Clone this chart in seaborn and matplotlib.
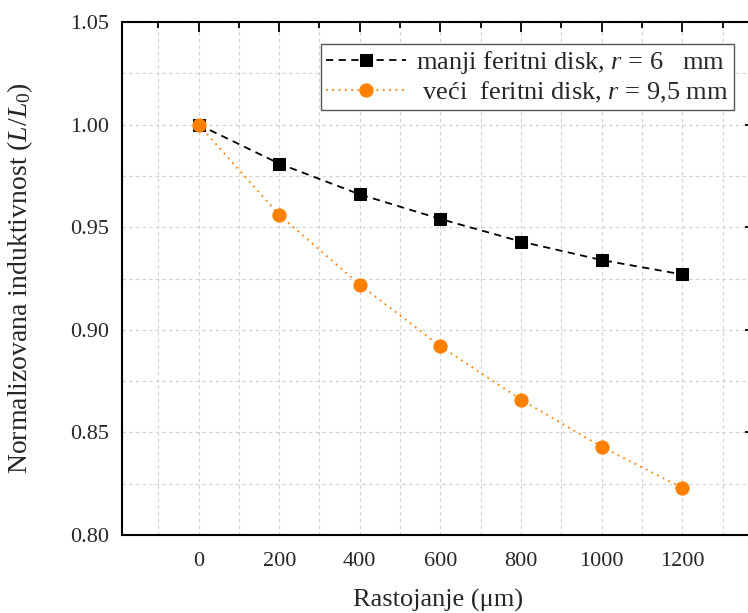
import matplotlib
matplotlib.use("Agg")
import matplotlib.pyplot as plt
from matplotlib.ticker import MultipleLocator
import seaborn as sns
import pandas as pd

# Measured normalized inductance versus distance
rastojanje = [0, 200, 400, 600, 800, 1000, 1200]
manji_disk = [1.000, 0.981, 0.966, 0.954, 0.943, 0.934, 0.927]
veci_disk = [1.000, 0.956, 0.922, 0.892, 0.866, 0.843, 0.823]
y_ticks = [0.80, 0.85, 0.90, 0.95, 1.00, 1.05]

label_manji = "manji feritni disk, $r$ = 6   mm"
label_veci = " veći  feritni disk, $r$ = 9,5 mm"

df_manji = pd.DataFrame({"x": rastojanje, "y": manji_disk})
df_veci = pd.DataFrame({"x": rastojanje, "y": veci_disk})

sns.set_theme(style="white")
plt.rcParams["font.family"] = ["Liberation Serif", "DejaVu Serif"]
plt.rcParams["mathtext.fontset"] = "custom"
plt.rcParams["mathtext.rm"] = "Liberation Serif"
plt.rcParams["mathtext.it"] = "Liberation Serif:italic"

fig = plt.figure(figsize=(7.48, 6.13), dpi=100)
ax = fig.add_axes([0.1631, 0.1272, 0.846, 0.8369])

sns.lineplot(data=df_manji, x="x", y="y", ax=ax, color="black",
             linestyle=(0, (4, 3)), linewidth=1.3, marker="s", markersize=8,
             markeredgecolor="black", label=label_manji, zorder=3)
sns.lineplot(data=df_veci, x="x", y="y", ax=ax, color="#FF8000",
             linestyle=(0, (1, 2.5)), linewidth=1.3, marker="o", markersize=9.5,
             markeredgecolor="#FF8000", markerfacecolor="#FF8000",
             label=label_veci, zorder=4)

ax.set_xlim(-190, 1380)
ax.set_ylim(0.80, 1.05)

ax.xaxis.set_minor_locator(MultipleLocator(100))
ax.yaxis.set_minor_locator(MultipleLocator(0.025))
ax.set_yticks(y_ticks)
ax.set_yticklabels([f"{v:.2f}" for v in y_ticks])
ax.set_xticks(rastojanje)
ax.set_xticklabels([str(v) for v in rastojanje])

ax.grid(True, which="both", color="#cfcfcf", linestyle=(0, (3, 3)), linewidth=0.8)
ax.set_axisbelow(True)

ax.tick_params(which="both", direction="in", top=True, right=True,
               color="black", width=1.3, labelsize=16)
ax.tick_params(axis="x", pad=12)
ax.tick_params(axis="y", pad=9)
ax.tick_params(which="major", length=7)
ax.tick_params(which="minor", length=4)
for s in ax.spines.values():
    s.set_color("black")
    s.set_linewidth(1.5)

ax.set_xlabel("Rastojanje (μm)", fontsize=19)
ax.xaxis.set_label_coords(0.5, -0.105)
ax.set_ylabel("Normalizovana induktivnost ($L/L_0$)", fontsize=20)
ax.yaxis.set_label_coords(-0.137, 0.5)

leg = ax.legend(loc="upper right", bbox_to_anchor=(0.967, 0.957), borderaxespad=0,
                fontsize=19, frameon=True, fancybox=False, framealpha=1,
                edgecolor="#555555", handlelength=3.0, handletextpad=0.4,
                labelspacing=0.12, borderpad=0.2)
leg.get_frame().set_linewidth(1.0)

fig.savefig("out.png", dpi=100)
